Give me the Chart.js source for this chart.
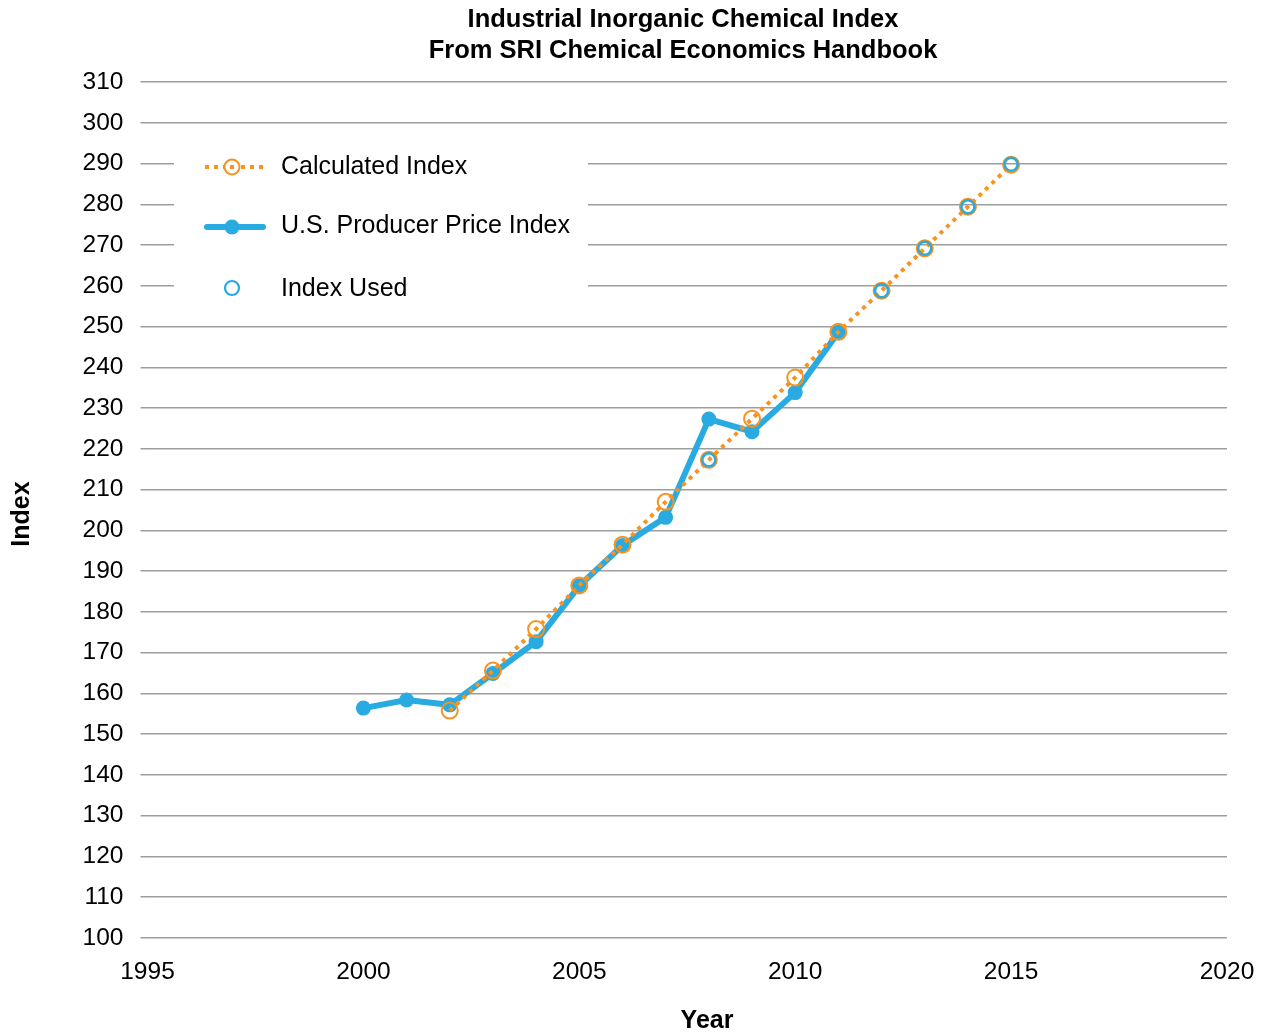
<!DOCTYPE html>
<html>
<head>
<meta charset="utf-8">
<script src="https://cdn.jsdelivr.net/npm/chart.js@4/dist/chart.umd.min.js"></script>
<style>
  html, body { margin: 0; padding: 0; background: #fff; }
  #wrap { width: 1265px; height: 1034px; position: relative; }
</style>
</head>
<body>
<div id="wrap"><canvas id="c" width="1265" height="1034"></canvas></div>
<script>
// ---- Data ----
const titleLines = ['Industrial Inorganic Chemical Index', 'From SRI Chemical Economics Handbook'];
const xTitle = 'Year';
const yTitle = 'Index';
const xTicks = [1995, 2000, 2005, 2010, 2015, 2020];
const yMin = 100, yMax = 310, yStep = 10;

const ppiYears  = [2000, 2001, 2002, 2003, 2004, 2005, 2006, 2007, 2008, 2009, 2010, 2011];
const ppiValues = [156.4, 158.4, 157.2, 164.9, 172.7, 186.4, 196.3, 203.2, 227.3, 224.2, 233.8, 248.6];

const calcYears  = [2002, 2003, 2004, 2005, 2006, 2007, 2008, 2009, 2010, 2011, 2012, 2013, 2014, 2015];
const calcValues = [155.8, 165.6, 175.8, 186.5, 196.5, 207.0, 217.3, 227.4, 237.5, 248.7, 258.8, 269.2, 279.4, 289.7];

const usedYears  = [2008, 2012, 2013, 2014, 2015];
const usedValues = [217.3, 258.8, 269.2, 279.4, 289.8];

const seriesNames = ['Calculated Index', 'U.S. Producer Price Index', 'Index Used'];

const BLUE = '#29abe2';
const ORANGE = '#f7931e';
const FONT = '"Liberation Sans", Arial, sans-serif';

const toPts = (xs, ys) => xs.map((x, i) => ({ x: x, y: ys[i] }));

// ---- Custom legend + titles plugin ----
const decor = {
  id: 'decor',
  beforeDatasetsDraw(chart) {
    const ctx = chart.ctx;
    ctx.save();
    // legend background box (hides gridlines)
    ctx.fillStyle = '#fff';
    ctx.fillRect(174, 142, 414, 164);
    // Calculated Index sample
    ctx.strokeStyle = ORANGE;
    ctx.lineWidth = 4;
    ctx.setLineDash([4, 5]);
    ctx.beginPath(); ctx.moveTo(205, 167); ctx.lineTo(264, 167); ctx.stroke();
    ctx.setLineDash([]);
    ctx.fillStyle = '#fff';
    ctx.beginPath(); ctx.arc(232, 167, 7.5, 0, Math.PI * 2); ctx.fill();
    ctx.lineWidth = 2;
    ctx.beginPath(); ctx.arc(232, 167, 7.5, 0, Math.PI * 2); ctx.stroke();
    ctx.fillStyle = ORANGE;
    ctx.fillRect(230, 165, 4, 4);
    // PPI sample
    ctx.strokeStyle = BLUE;
    ctx.lineWidth = 6;
    ctx.lineCap = 'round';
    ctx.beginPath(); ctx.moveTo(207, 227); ctx.lineTo(263, 227); ctx.stroke();
    ctx.lineCap = 'butt';
    ctx.fillStyle = BLUE;
    ctx.beginPath(); ctx.arc(232, 227, 7.5, 0, Math.PI * 2); ctx.fill();
    // Index Used sample
    ctx.lineWidth = 2.2;
    ctx.beginPath(); ctx.arc(232, 288, 7, 0, Math.PI * 2); ctx.stroke();
    // legend texts
    ctx.fillStyle = '#000';
    ctx.font = '25px ' + FONT;
    ctx.textBaseline = 'middle';
    ctx.textAlign = 'left';
    ctx.fillText(seriesNames[0], 281, 167);
    ctx.fillText(seriesNames[1], 281, 226);
    ctx.fillText(seriesNames[2], 281, 289);
    ctx.restore();
  },
  afterDraw(chart) {
    const ctx = chart.ctx;
    ctx.save();
    ctx.fillStyle = '#000';
    ctx.font = 'bold 25.5px ' + FONT;
    ctx.textAlign = 'center';
    ctx.textBaseline = 'middle';
    ctx.fillText(titleLines[0], 683, 20);
    ctx.fillText(titleLines[1], 683, 51);
    // axis titles
    ctx.font = 'bold 25px ' + FONT;
    ctx.fillText(xTitle, 707, 1021);
    ctx.translate(22, 514);
    ctx.rotate(-Math.PI / 2);
    ctx.fillText(yTitle, 0, 0);
    ctx.restore();
  }
};

new Chart(document.getElementById('c'), {
  type: 'line',
  data: {
    datasets: [
      {
        label: seriesNames[2],
        data: toPts(usedYears, usedValues),
        showLine: false,
        pointRadius: 6.5,
        pointBorderWidth: 2.5,
        pointBorderColor: BLUE,
        pointBackgroundColor: 'rgba(0,0,0,0)',
        borderColor: BLUE,
        order: 1
      },
      {
        label: seriesNames[0],
        data: toPts(calcYears, calcValues),
        borderColor: ORANGE,
        borderWidth: 4,
        borderDash: [4, 5],
        borderCapStyle: 'butt',
        pointRadius: 8,
        pointBorderWidth: 2,
        pointBorderColor: ORANGE,
        pointBackgroundColor: 'rgba(0,0,0,0)',
        tension: 0,
        order: 2
      },
      {
        label: seriesNames[1],
        data: toPts(ppiYears, ppiValues),
        borderColor: BLUE,
        borderWidth: 6,
        pointRadius: 7.5,
        pointBorderWidth: 0,
        pointBackgroundColor: BLUE,
        pointBorderColor: BLUE,
        tension: 0,
        order: 3
      }
    ]
  },
  options: {
    responsive: false,
    animation: false,
    devicePixelRatio: 1,
    layout: { padding: { top: 82, right: 38, bottom: 0, left: 0 } },
    plugins: {
      legend: { display: false },
      title: { display: false },
      tooltip: { enabled: false }
    },
    scales: {
      x: {
        type: 'linear',
        min: 1995,
        max: 2020,
        afterBuildTicks: (axis) => { axis.ticks = xTicks.map(v => ({ value: v })); },
        afterFit: (scale) => { scale.height = 96; scale.paddingLeft = 0; scale.paddingRight = 0; },
        grid: { display: false, drawTicks: false },
        border: { display: false },
        ticks: {
          color: '#000',
          font: { family: FONT, size: 24.5 },
          padding: 20,
          maxRotation: 0,
          callback: (v) => String(v)
        },
        title: { display: false }
      },
      y: {
        min: yMin,
        max: yMax,
        afterFit: (scale) => { scale.width = 147.5; scale.paddingTop = 0; scale.paddingBottom = 0; },
        ticks: {
          stepSize: yStep,
          color: '#000',
          font: { family: FONT, size: 24.5 },
          padding: 17
        },
        grid: {
          color: '#9e9e9e',
          lineWidth: 1.5,
          drawTicks: true,
          tickLength: 7
        },
        border: { display: false },
        title: { display: false }
      }
    }
  },
  plugins: [decor]
});
</script>
</body>
</html>
